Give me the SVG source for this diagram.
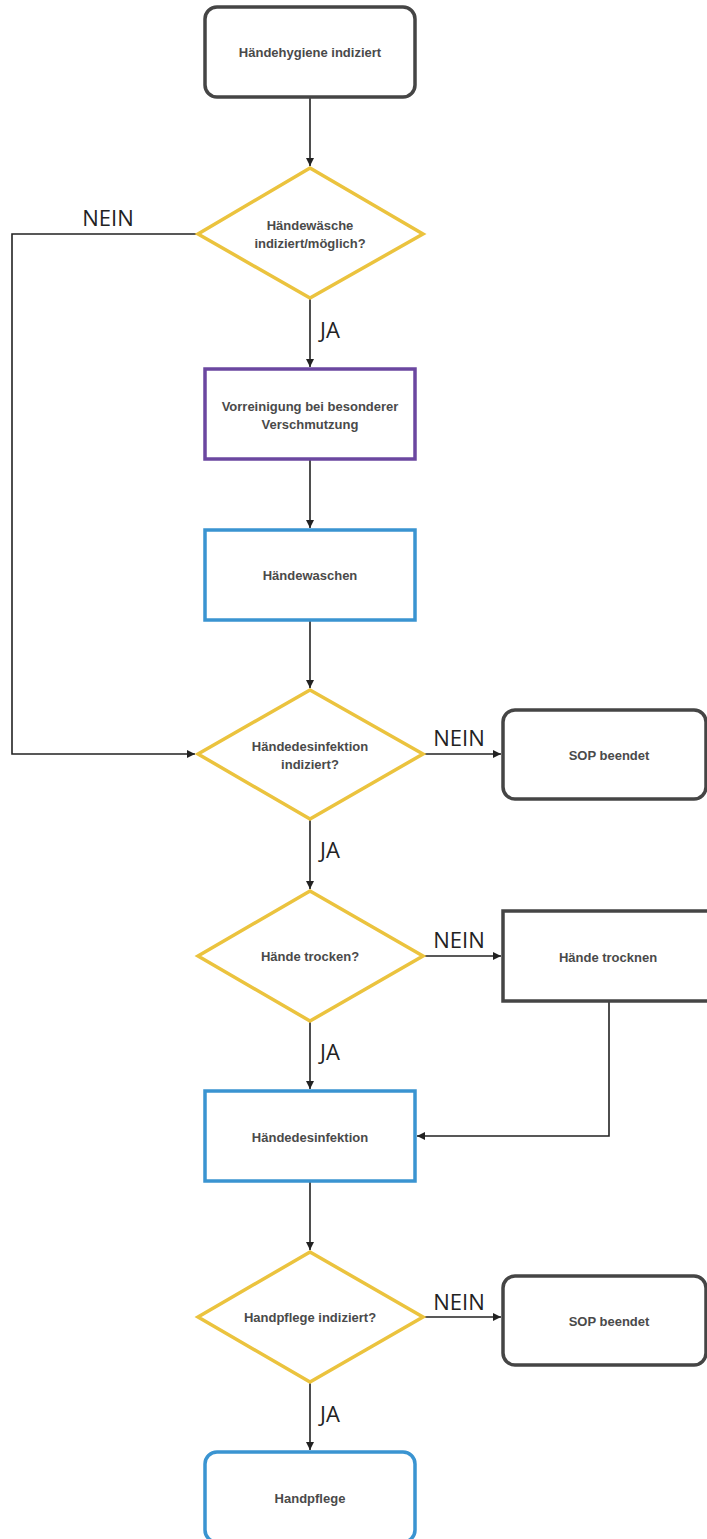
<svg xmlns="http://www.w3.org/2000/svg" width="707" height="1539" viewBox="0 0 707 1539">
<defs>
<marker id="arr" viewBox="0 0 10 10" refX="10" refY="5" markerWidth="9" markerHeight="8" markerUnits="userSpaceOnUse" orient="auto">
<path d="M0,0 L10,5 L0,10 z" fill="#222"/>
</marker>
<style>
.box{fill:#fff;stroke-width:3.5}
.gray{stroke:#454545}
.purple{stroke:#6B47A0}
.blue{stroke:#3A94D1}
.dia{fill:#fff;stroke:#EBC33E;stroke-width:3.5}
.t{font-family:"Liberation Sans",Arial,sans-serif;font-size:13px;font-weight:bold;fill:#4a4a4a;text-anchor:middle}
.lbl{font-family:"Open Sans","Noto Sans",sans-serif;font-size:22px;fill:#222;text-anchor:middle}
.c{fill:none;stroke:#222;stroke-width:1.6}
</style>
</defs>
<rect width="707" height="1539" fill="#fff"/>
<g id="connectors">
<path class="c" d="M310,98 V166" marker-end="url(#arr)"/>
<path class="c" d="M310,299 V367" marker-end="url(#arr)"/>
<path class="c" d="M310,460 V528" marker-end="url(#arr)"/>
<path class="c" d="M310,621 V688" marker-end="url(#arr)"/>
<path class="c" d="M197,234 H12 V754 H195" marker-end="url(#arr)"/>
<path class="c" d="M424,754 H501" marker-end="url(#arr)"/>
<path class="c" d="M310,820 V889" marker-end="url(#arr)"/>
<path class="c" d="M424,956 H501" marker-end="url(#arr)"/>
<path class="c" d="M310,1022 V1089" marker-end="url(#arr)"/>
<path class="c" d="M609,1002 V1136 H417" marker-end="url(#arr)"/>
<path class="c" d="M310,1182 V1250" marker-end="url(#arr)"/>
<path class="c" d="M424,1317 H501" marker-end="url(#arr)"/>
<path class="c" d="M310,1383 V1450" marker-end="url(#arr)"/>
<text class="lbl" x="108" y="226">NEIN</text>
<text class="lbl" x="330" y="338">JA</text>
<text class="lbl" x="459" y="746">NEIN</text>
<text class="lbl" x="330" y="858">JA</text>
<text class="lbl" x="459" y="948">NEIN</text>
<text class="lbl" x="330" y="1060">JA</text>
<text class="lbl" x="459" y="1310">NEIN</text>
<text class="lbl" x="330" y="1422">JA</text>
</g>
<g id="start">
<rect class="box gray" x="205" y="7" width="210" height="90" rx="12"/>
<text class="t" x="310" y="57">Händehygiene indiziert</text>
</g>
<g id="d1">
<polygon class="dia" points="310,168 423,234 310,298 198,234"/>
<text class="t" x="310" y="230">Händewäsche</text>
<text class="t" x="310" y="248">indiziert/möglich?</text>
</g>
<g id="vorreinigung">
<rect class="box purple" x="205" y="369" width="210" height="90"/>
<text class="t" x="310" y="411">Vorreinigung bei besonderer</text>
<text class="t" x="310" y="429">Verschmutzung</text>
</g>
<g id="waschen">
<rect class="box blue" x="205" y="530" width="210" height="90"/>
<text class="t" x="310" y="580">Händewaschen</text>
</g>
<g id="d2">
<polygon class="dia" points="310,690 423,754 310,819 198,754"/>
<text class="t" x="310" y="751">Händedesinfektion</text>
<text class="t" x="310" y="769">indiziert?</text>
</g>
<g id="sop1">
<rect class="box gray" x="503" y="710" width="203" height="89" rx="12"/>
<text class="t" x="609" y="760">SOP beendet</text>
</g>
<g id="d3">
<polygon class="dia" points="310,891 423,956 310,1021 198,956"/>
<text class="t" x="310" y="961">Hände trocken?</text>
</g>
<g id="trocknen">
<rect class="box gray" x="503" y="911" width="214" height="90"/>
<text class="t" x="608" y="962">Hände trocknen</text>
</g>
<g id="desinfektion">
<rect class="box blue" x="205" y="1091" width="210" height="90"/>
<text class="t" x="310" y="1142">Händedesinfektion</text>
</g>
<g id="d4">
<polygon class="dia" points="310,1252 423,1317 310,1382 198,1317"/>
<text class="t" x="310" y="1322">Handpflege indiziert?</text>
</g>
<g id="sop2">
<rect class="box gray" x="503" y="1276" width="203" height="89" rx="12"/>
<text class="t" x="609" y="1326">SOP beendet</text>
</g>
<g id="handpflege">
<rect class="box blue" x="205" y="1452" width="210" height="90" rx="12"/>
<text class="t" x="310" y="1503">Handpflege</text>
</g>
</svg>
